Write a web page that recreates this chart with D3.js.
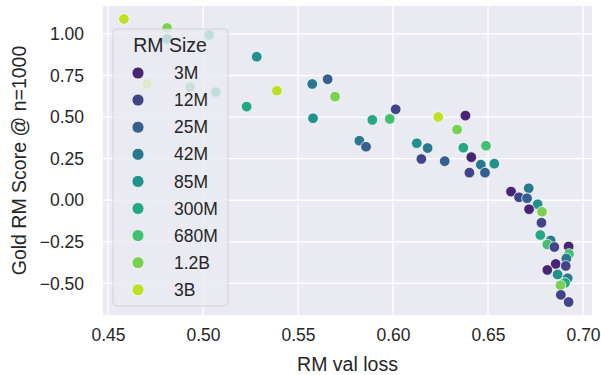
<!DOCTYPE html>
<html>
<head>
<meta charset="utf-8">
<script src="https://cdn.jsdelivr.net/npm/d3@7"></script>
<style>
  html, body { margin: 0; padding: 0; background: #ffffff; }
  svg { display: block; font-family: "Liberation Sans", Arial, sans-serif; }
</style>
</head>
<body>
<svg id="chart" width="601" height="375"></svg>
<script>
// RM size categories, in legend order
const sizes = ["3M", "12M", "25M", "42M", "85M", "300M", "680M", "1.2B", "3B"];

// One entry per run: RM size, validation loss, gold RM score at n=1000
const pointSize = ["3B", "1.2B", "85M", "300M", "3B", "680M", "300M", "300M", "85M", "3B",
  "42M", "25M", "1.2B", "85M", "42M", "25M", "300M", "680M", "12M", "3B",
  "3M", "1.2B", "85M", "42M", "12M", "25M", "300M", "680M", "3M", "42M",
  "85M", "12M", "25M", "3M", "12M", "42M", "25M", "85M", "3M", "1.2B",
  "12M", "300M", "42M", "680M", "12M", "3M", "680M", "42M", "3M", "12M",
  "3M", "85M", "42M", "300M", "1.2B", "12M", "12M"];
const valLoss = [0.4584, 0.4811, 0.4811, 0.5032, 0.4705, 0.4932, 0.5068, 0.5230, 0.5283, 0.5389,
  0.5575, 0.5656, 0.5695, 0.5579, 0.5823, 0.5858, 0.5891, 0.5983, 0.6014, 0.6238,
  0.6381, 0.6337, 0.6125, 0.6182, 0.6149, 0.6272, 0.6370, 0.6489, 0.6412, 0.6462,
  0.6533, 0.6402, 0.6484, 0.6621, 0.6663, 0.6714, 0.6705, 0.6761, 0.6716, 0.6784,
  0.6781, 0.6775, 0.6830, 0.6812, 0.6849, 0.6924, 0.6926, 0.6912, 0.6856, 0.6909,
  0.6812, 0.6866, 0.6919, 0.6905, 0.6881, 0.6883, 0.6924];
const goldScore = [1.090, 1.036, 0.970, 0.994, 0.699, 0.681, 0.651, 0.563, 0.863, 0.659,
  0.699, 0.728, 0.623, 0.493, 0.358, 0.322, 0.483, 0.489, 0.547, 0.501,
  0.509, 0.425, 0.343, 0.314, 0.248, 0.235, 0.316, 0.328, 0.259, 0.214,
  0.220, 0.166, 0.166, 0.052, 0.018, 0.072, 0.012, -0.024, -0.054, -0.069,
  -0.135, -0.209, -0.242, -0.266, -0.281, -0.278, -0.323, -0.350, -0.383, -0.395,
  -0.419, -0.446, -0.469, -0.497, -0.511, -0.569, -0.612];

// Axis ticks
const xTicks = [0.45, 0.50, 0.55, 0.60, 0.65, 0.70];
const yTicks = [1.00, 0.75, 0.50, 0.25, 0.00, -0.25, -0.50];

const svg = d3.select("#chart");
const textColor = "#262626";
const plot = { left: 103, right: 592, top: 6, bottom: 315 };

const x = d3.scaleLinear().domain([0.4474, 0.7047]).range([plot.left, plot.right]);
const y = d3.scaleLinear().domain([-0.690, 1.168]).range([plot.bottom, plot.top]);

// Viridis palette sampled the way seaborn spaces discrete levels
const color = d3.scaleOrdinal()
  .domain(sizes)
  .range(sizes.map((_, i) => d3.interpolateViridis((i + 1) / (sizes.length + 1))));

// Plot background
svg.append("rect")
  .attr("x", plot.left).attr("y", plot.top)
  .attr("width", plot.right - plot.left).attr("height", plot.bottom - plot.top)
  .attr("fill", "#eaeaf2");

// Grid lines
const grid = svg.append("g");
grid.selectAll("line.gx").data(xTicks).join("line")
  .attr("x1", d => x(d)).attr("x2", d => x(d))
  .attr("y1", plot.top).attr("y2", plot.bottom)
  .attr("stroke", "#ffffff").attr("stroke-width", 1.3);
grid.selectAll("line.gy").data(yTicks).join("line")
  .attr("y1", d => y(d)).attr("y2", d => y(d))
  .attr("x1", plot.left).attr("x2", plot.right)
  .attr("stroke", "#ffffff").attr("stroke-width", 1.3);

// Axes (labels only, no spines or tick marks)
const fmt = d => d3.format(".2f")(d).replace("-", "\u2212");
const xAxis = svg.append("g")
  .attr("transform", `translate(0,${plot.bottom})`)
  .call(d3.axisBottom(x).tickValues(xTicks).tickFormat(fmt).tickSize(0).tickPadding(14));
const yAxis = svg.append("g")
  .attr("transform", `translate(${plot.left},0)`)
  .call(d3.axisLeft(y).tickValues(yTicks).tickFormat(fmt).tickSize(0).tickPadding(19));
[xAxis, yAxis].forEach(g => {
  g.select(".domain").remove();
  g.selectAll("text")
    .attr("fill", textColor)
    .style("font-size", "17.5px")
    .style("font-family", "'Liberation Sans', Arial, sans-serif");
});

// Axis titles
svg.append("text")
  .attr("x", (plot.left + plot.right) / 2).attr("y", 371)
  .attr("text-anchor", "middle")
  .attr("fill", textColor).style("font-size", "19.5px")
  .text("RM val loss");
svg.append("text")
  .attr("transform", `translate(26,${(plot.top + plot.bottom) / 2}) rotate(-90)`)
  .attr("text-anchor", "middle")
  .attr("fill", textColor).style("font-size", "19.5px")
  .text("Gold RM Score @ n=1000");

// Scatter points
const points = pointSize.map((s, i) => ({ size: s, loss: valLoss[i], score: goldScore[i] }));
svg.append("g").selectAll("circle").data(points).join("circle")
  .attr("cx", d => x(d.loss))
  .attr("cy", d => y(d.score))
  .attr("r", 5.3)
  .attr("fill", d => color(d.size))
  .attr("stroke", "#ffffff")
  .attr("stroke-width", 0.7);

// Legend
const legend = svg.append("g");
legend.append("rect")
  .attr("x", 113).attr("y", 29).attr("width", 115).attr("height", 277)
  .attr("rx", 4).attr("ry", 4)
  .attr("fill", "#eaeaf2").attr("fill-opacity", 0.8)
  .attr("stroke", "#cccccc").attr("stroke-opacity", 0.8).attr("stroke-width", 1);
legend.append("text")
  .attr("x", 170).attr("y", 52)
  .attr("text-anchor", "middle")
  .attr("fill", textColor).style("font-size", "19.5px")
  .text("RM Size");
const entries = legend.selectAll("g.entry").data(sizes).join("g")
  .attr("transform", (d, i) => `translate(0,${73 + i * 27.1})`);
entries.append("circle")
  .attr("cx", 138).attr("cy", 0).attr("r", 6)
  .attr("fill", d => color(d))
  .attr("stroke", "#ffffff").attr("stroke-width", 0.7);
entries.append("text")
  .attr("x", 174).attr("y", 0).attr("dy", "0.35em")
  .attr("fill", textColor).style("font-size", "17.5px")
  .text(d => d);
</script>
</body>
</html>
